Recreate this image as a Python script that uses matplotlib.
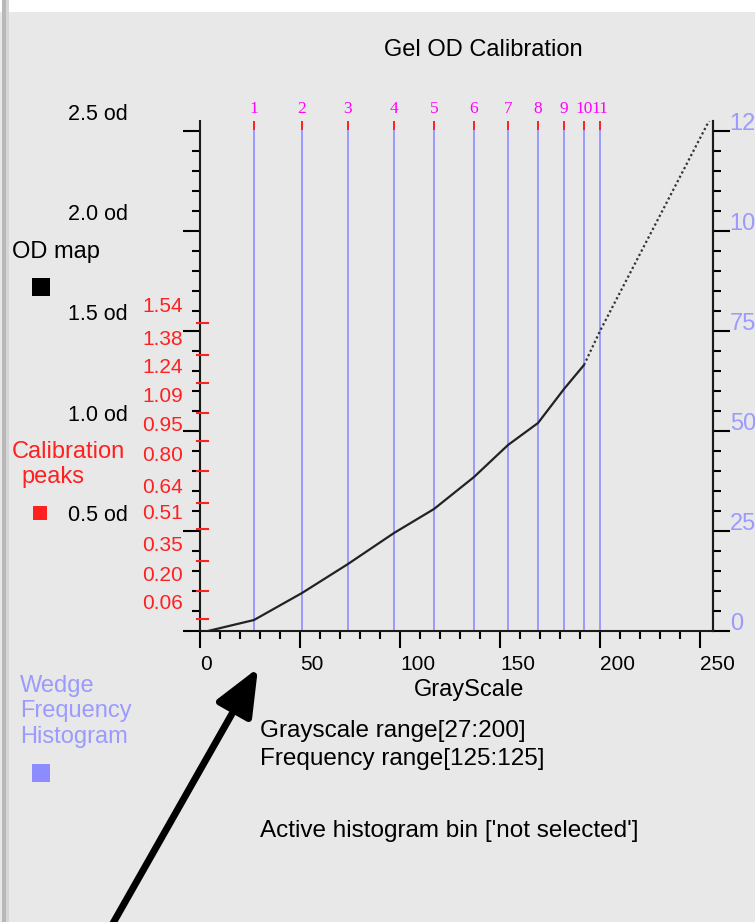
import matplotlib
matplotlib.use("Agg")
import matplotlib.pyplot as plt
import matplotlib.transforms as mtrans
from matplotlib.patches import Rectangle, FancyArrowPatch
from matplotlib.ticker import MultipleLocator, FixedLocator

plt.rcParams['font.family'] = ['Liberation Sans', 'DejaVu Sans']

# calibration peaks (grayscale position, od value)
peak_gray = [27, 51, 74, 97, 117, 137, 154, 169, 182, 192, 200]
peak_od = [0.06, 0.20, 0.35, 0.51, 0.64, 0.80, 0.95, 1.09, 1.24, 1.38, 1.54]
peak_labels = ['1', '2', '3', '4', '5', '6', '7', '8', '9', '10', '11']

# OD map curve
curve_gray = [4, 27, 51, 74, 97, 117, 137, 154, 169, 182, 192, 200, 255]
curve_od = [0.0, 0.055, 0.19, 0.335, 0.49, 0.61, 0.77, 0.93, 1.04, 1.21, 1.33, 1.50, 2.56]

od_ticks = [0, 0.5, 1.0, 1.5, 2.0, 2.5]
od_ticklabels = ['', '0.5 od', '1.0 od', '1.5 od', '2.0 od', '2.5 od']
freq_ticks = [0, 25, 50, 75, 100, 125]
gray_ticks = [0, 50, 100, 150, 200, 250]

BG = '#e8e8e8'
BLUE = '#9a9aff'
RED = '#ff2020'
MAGENTA = '#ff00ff'

W, H = 755, 922
fig = plt.figure(figsize=(W / 100, H / 100), dpi=100, facecolor=BG)


def fx(px):
    return px / W


def fy(py):
    return 1 - py / H


# window decoration: white strip on top, grey border on the left
fig.add_artist(Rectangle((0, fy(12)), 1, 12 / H, transform=fig.transFigure,
                         facecolor='white', edgecolor='none'))
fig.add_artist(Rectangle((fx(2), 0), 4 / W, 1, transform=fig.transFigure,
                         facecolor='#b8b8b8', edgecolor='none'))
fig.add_artist(Rectangle((fx(6), 0), 3 / W, 1, transform=fig.transFigure,
                         facecolor='#d6d6d6', edgecolor='none'))

ax = fig.add_axes([fx(200), fy(631), 513 / W, 510 / H])
ax.set_facecolor(BG)
ax.set_xlim(0, 256.5)
ax.set_ylim(0, 2.55)

ax.spines['top'].set_visible(False)
for s in ['left', 'bottom', 'right']:
    ax.spines[s].set_linewidth(1.5)
    ax.spines[s].set_color('#1a1a1a')

# calibration peak lines
ax.vlines(peak_gray, 0, 2.505, color=BLUE, lw=1.4, zorder=1)
ax.vlines(peak_gray, 2.505, 2.55, color=RED, lw=1.4, zorder=1, clip_on=False)
for g, lab in zip(peak_gray, peak_labels):
    ax.text(g, 2.61, lab, ha='center', va='center', color=MAGENTA,
            fontsize=12.5, family=['Liberation Serif'], clip_on=False)

# od map curve: dense part looks solid, steep part dotted
ax.plot(curve_gray[:11], curve_od[:11], color='#222222', lw=1.6, zorder=3,
        solid_capstyle='round')
ax.plot(curve_gray[10:], curve_od[10:], color='#333333', lw=1.6, zorder=3,
        linestyle=(0, (1, 1.2)))

# red calibration ticks and labels on the left axis
ytr = ax.get_yaxis_transform()
lab_tr = mtrans.offset_copy(ytr, fig=fig, x=0, y=16, units='dots')
for od in peak_od:
    ax.plot([-0.006, 0.016], [od, od], color=RED, lw=1.5, transform=ytr,
            clip_on=False, zorder=4)
    ax.text(-0.033, od, '%.2f' % od, transform=lab_tr, ha='right', va='center',
            color=RED, fontsize=15)

# axes ticks
ax.xaxis.set_major_locator(FixedLocator(gray_ticks))
ax.xaxis.set_minor_locator(MultipleLocator(10))
ax.set_xticklabels([str(v) for v in gray_ticks])
ax.tick_params(axis='x', which='major', length=12, width=1.5, pad=5,
               labelsize=15, direction='out')
ax.tick_params(axis='x', which='minor', length=6, width=1.5, direction='out')
for lab in ax.get_xticklabels():
    lab.set_horizontalalignment('left')

ax.yaxis.set_major_locator(FixedLocator(od_ticks))
ax.yaxis.set_minor_locator(MultipleLocator(0.1))
ax.set_yticklabels(od_ticklabels)
ax.tick_params(axis='y', which='major', length=12, width=1.5, pad=40,
               labelsize=15.5, direction='out')
ax.tick_params(axis='y', which='minor', length=6, width=1.5, direction='out')
up = mtrans.ScaledTranslation(0, 18.5 / 100, fig.dpi_scale_trans)
for lab in ax.get_yticklabels():
    lab.set_transform(lab.get_transform() + up)

ax2 = ax.twinx()
ax2.set_ylim(0, 127.5)
for s in ['top', 'left', 'bottom']:
    ax2.spines[s].set_visible(False)
ax2.spines['right'].set_linewidth(1.5)
ax2.spines['right'].set_color('#1a1a1a')
ax2.yaxis.set_major_locator(FixedLocator(freq_ticks))
ax2.yaxis.set_minor_locator(MultipleLocator(5))
ax2.set_yticklabels([str(v) for v in freq_ticks])
ax2.tick_params(axis='y', which='major', length=12, width=1.5, pad=0,
                labelsize=17, labelcolor=BLUE, direction='out')
ax2.tick_params(axis='y', which='minor', length=6, width=1.5, direction='out')
up2 = mtrans.ScaledTranslation(0, 10 / 100, fig.dpi_scale_trans)
for lab in ax2.get_yticklabels():
    lab.set_transform(lab.get_transform() + up2)

# titles and labels
fig.text(fx(483), fy(50), 'Gel OD Calibration', ha='center', va='center', fontsize=17)
fig.text(fx(469), fy(690), 'GrayScale', ha='center', va='center', fontsize=17)

# legend column on the left
fig.text(fx(12), fy(252), 'OD map', ha='left', va='center', fontsize=17)
fig.add_artist(Rectangle((fx(32), fy(296)), 18 / W, 18 / H, transform=fig.transFigure,
                         facecolor='black', edgecolor='none'))
fig.text(fx(12), fy(452), 'Calibration', ha='left', va='center', fontsize=17, color=RED)
fig.text(fx(21), fy(477), 'peaks', ha='left', va='center', fontsize=17, color=RED)
fig.add_artist(Rectangle((fx(33), fy(520)), 14 / W, 14 / H, transform=fig.transFigure,
                         facecolor=RED, edgecolor='none'))
fig.text(fx(20), fy(686), 'Wedge', ha='left', va='center', fontsize=17, color=BLUE)
fig.text(fx(20), fy(711), 'Frequency', ha='left', va='center', fontsize=17, color=BLUE)
fig.text(fx(20), fy(737), 'Histogram', ha='left', va='center', fontsize=17, color=BLUE)
fig.add_artist(Rectangle((fx(32), fy(782)), 18 / W, 18 / H, transform=fig.transFigure,
                         facecolor='#8c8cff', edgecolor='none'))

# status text below the chart
fig.text(fx(260), fy(731), 'Grayscale range[27:200]', ha='left', va='center', fontsize=17.5)
fig.text(fx(260), fy(759), 'Frequency range[125:125]', ha='left', va='center', fontsize=17.5)
fig.text(fx(260), fy(831), "Active histogram bin ['not selected']", ha='left', va='center',
         fontsize=17.5)

# big annotation arrow
arrow = FancyArrowPatch((fx(112), fy(925)), (fx(258), fy(668)), transform=fig.transFigure,
                        arrowstyle='-|>,head_length=1.3,head_width=0.55',
                        mutation_scale=22, lw=5, color='black', shrinkA=0, shrinkB=0)
fig.add_artist(arrow)

fig.savefig('out.png', dpi=100, facecolor=BG)
